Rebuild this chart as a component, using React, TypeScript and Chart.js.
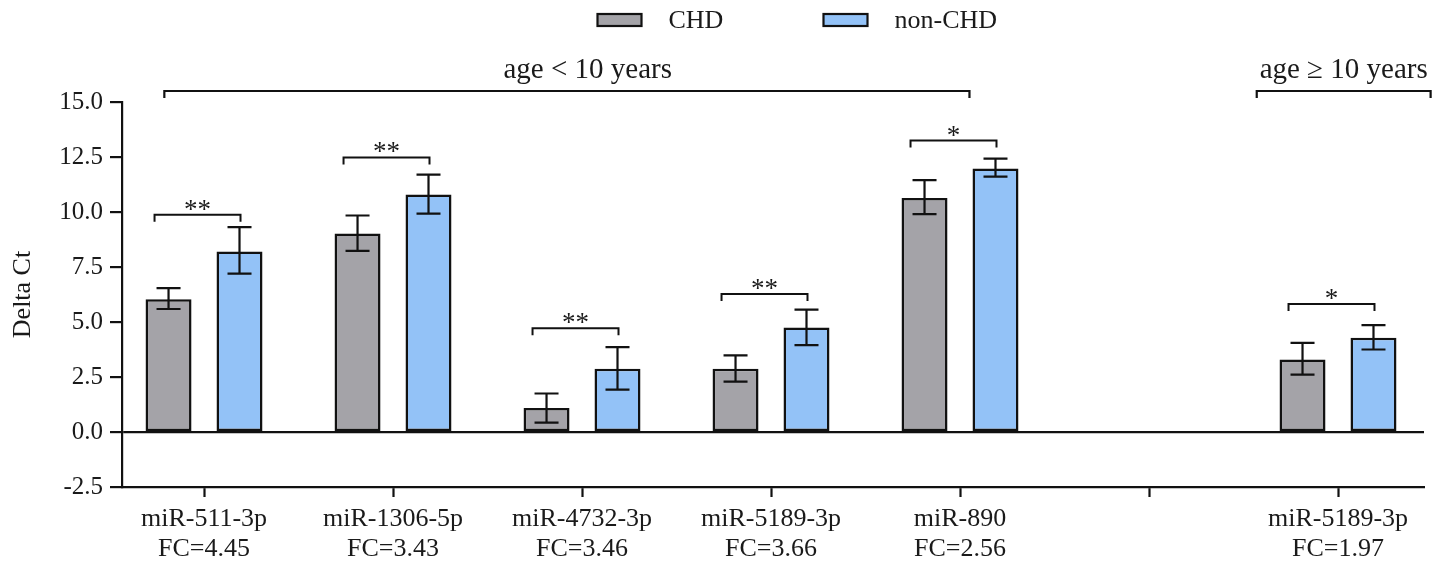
import React, { useEffect, useRef } from 'react';
import { Chart, registerables } from 'chart.js';

Chart.register(...registerables);

// ---------- data ----------
const CATEGORY_LABELS: string[][] = [
  ['miR-511-3p', 'FC=4.45'],
  ['miR-1306-5p', 'FC=3.43'],
  ['miR-4732-3p', 'FC=3.46'],
  ['miR-5189-3p', 'FC=3.66'],
  ['miR-890', 'FC=2.56'],
  [''],
  ['miR-5189-3p', 'FC=1.97'],
];
const CATEGORY_INDEX = [0, 1, 2, 3, 4, 5, 6];

const SERIES_NAMES = ['CHD', 'non-CHD'];
const CHD_VALUES = [6.03, 9.02, 1.09, 2.87, 10.64, null, 3.3];
const CHD_ERR_LOW = [5.59, 8.23, 0.43, 2.29, 9.9, null, 2.61];
const CHD_ERR_HIGH = [6.54, 9.84, 1.75, 3.48, 11.45, null, 4.05];
const NONCHD_VALUES = [8.2, 10.79, 2.87, 4.75, 11.98, null, 4.28];
const NONCHD_ERR_LOW = [7.2, 9.93, 1.93, 3.95, 11.61, null, 3.75];
const NONCHD_ERR_HIGH = [9.31, 11.7, 3.86, 5.56, 12.43, null, 4.86];

const SIG_LEVELS = [9.88, 12.48, 4.72, 6.27, 13.25, null, 5.82];
const SIG_MARKS = ['**', '**', '**', '**', '*', '', '*'];

const AGE_GROUP_LABELS = ['age < 10 years', 'age \u2265 10 years'];
const AGE_GROUP_FROM = [-0.21, 5.57];
const AGE_GROUP_TO = [4.05, 6.49];
const AGE_GROUP_LABEL_AT = [2.03, 6.03];
const AGE_GROUP_LEVEL = 15.5;

const Y_MIN = -2.5;
const Y_MAX = 15;
const Y_STEP = 2.5;
const Y_TITLE = 'Delta Ct';

// ---------- styles ----------
const FONT = '"Liberation Serif", "Times New Roman", serif';
const TEXT_COLOR = '#1a1a1a';
const GRAY = '#a4a3a8';
const BLUE = '#93c2f7';

const toPoints = (vals: (number | null)[]) =>
  vals
    .map((v, i) => (v === null ? null : { x: CATEGORY_INDEX[i], y: v }))
    .filter((p) => p !== null);

const overlayPlugin = {
  id: 'overlay',
  afterDatasetsDraw(chart: any) {
    const { ctx } = chart;
    const xs = chart.scales.x;
    const ys = chart.scales.y;
    const errs = [
      [CHD_ERR_LOW, CHD_ERR_HIGH],
      [NONCHD_ERR_LOW, NONCHD_ERR_HIGH],
    ];
    const centers: Record<number, number>[] = [{}, {}];
    ctx.save();
    ctx.strokeStyle = '#111';
    ctx.lineWidth = 2.2;
    ctx.lineCap = 'butt';
    // error bars
    [0, 1].forEach((d) => {
      const meta = chart.getDatasetMeta(d);
      const data = chart.data.datasets[d].data as any[];
      meta.data.forEach((el: any, j: number) => {
        const i = data[j].x;
        centers[d][i] = el.x;
        const lo = errs[d][0][i] as number;
        const hi = errs[d][1][i] as number;
        const yl = ys.getPixelForValue(lo);
        const yh = ys.getPixelForValue(hi);
        ctx.beginPath();
        ctx.moveTo(el.x, yl);
        ctx.lineTo(el.x, yh);
        ctx.moveTo(el.x - 12, yh);
        ctx.lineTo(el.x + 12, yh);
        ctx.moveTo(el.x - 12, yl);
        ctx.lineTo(el.x + 12, yl);
        ctx.stroke();
      });
    });
    // significance brackets
    ctx.lineWidth = 2;
    ctx.fillStyle = TEXT_COLOR;
    ctx.font = `27px ${FONT}`;
    ctx.textAlign = 'center';
    ctx.textBaseline = 'alphabetic';
    SIG_LEVELS.forEach((lvl, i) => {
      if (lvl === null) return;
      const left = centers[0][i] - 14;
      const right = centers[1][i] + 1;
      const y = ys.getPixelForValue(lvl);
      ctx.beginPath();
      ctx.moveTo(left, y + 7);
      ctx.lineTo(left, y);
      ctx.lineTo(right, y);
      ctx.lineTo(right, y + 7);
      ctx.stroke();
      ctx.fillText(SIG_MARKS[i], (left + right) / 2, y + 3);
    });
    // age group brackets
    ctx.lineWidth = 2.2;
    ctx.font = `29px ${FONT}`;
    const yb = ys.getPixelForValue(AGE_GROUP_LEVEL);
    AGE_GROUP_LABELS.forEach((lab, g) => {
      const x1 = xs.getPixelForValue(AGE_GROUP_FROM[g]);
      const x2 = xs.getPixelForValue(AGE_GROUP_TO[g]);
      ctx.beginPath();
      ctx.moveTo(x1, yb + 7);
      ctx.lineTo(x1, yb);
      ctx.lineTo(x2, yb);
      ctx.lineTo(x2, yb + 7);
      ctx.stroke();
      ctx.fillText(lab, xs.getPixelForValue(AGE_GROUP_LABEL_AT[g]), yb - 13);
    });
    ctx.restore();
  },
  afterDraw(chart: any) {
    const { ctx } = chart;
    const cx = chart.width / 2;
    const boxW = 44;
    const boxH = 12;
    const starts = [cx - 126, cx + 100];
    ctx.save();
    ctx.font = `26px ${FONT}`;
    ctx.textAlign = 'left';
    ctx.textBaseline = 'middle';
    chart.data.datasets.forEach((ds: any, k: number) => {
      const x0 = starts[k];
      ctx.fillStyle = ds.backgroundColor;
      ctx.fillRect(x0, 14, boxW, boxH);
      ctx.strokeStyle = '#111';
      ctx.lineWidth = 2.2;
      ctx.strokeRect(x0, 14, boxW, boxH);
      ctx.fillStyle = TEXT_COLOR;
      ctx.fillText(ds.label, x0 + boxW + 27, 21);
    });
    ctx.restore();
  },
};

export default function App() {
  const ref = useRef<HTMLCanvasElement | null>(null);
  useEffect(() => {
    if (!ref.current) return;
    Chart.defaults.font.family = FONT;
    const chart = new Chart(ref.current, {
      type: 'bar',
      data: {
        datasets: [
          {
            label: SERIES_NAMES[0],
            data: toPoints(CHD_VALUES) as any,
            backgroundColor: GRAY,
            borderColor: '#111',
            borderWidth: 2.5,
            borderSkipped: false,
            categoryPercentage: 0.751,
            barPercentage: 0.648,
          },
          {
            label: SERIES_NAMES[1],
            data: toPoints(NONCHD_VALUES) as any,
            backgroundColor: BLUE,
            borderColor: '#111',
            borderWidth: 2.5,
            borderSkipped: false,
            categoryPercentage: 0.751,
            barPercentage: 0.648,
          },
        ],
      },
      options: {
        responsive: false,
        animation: false,
        events: [],
        layout: { padding: { top: 102, right: 23, left: 0, bottom: 0 } },
        plugins: {
          legend: { display: false },
          tooltip: { enabled: false },
        },
        scales: {
          x: {
            type: 'linear',
            offset: false,
            min: -0.434,
            max: 6.455,
            afterBuildTicks: (s: any) => {
              s.ticks = CATEGORY_INDEX.map((v) => ({ value: v }));
            },
            afterFit: (s: any) => {
              s.height = 76;
            },
            border: { display: true, color: '#111', width: 2.2 },
            grid: {
              offset: false,
              drawOnChartArea: false,
              drawTicks: true,
              tickLength: 10,
              tickWidth: 2.2,
              tickColor: '#111',
            },
            ticks: {
              autoSkip: false,
              maxRotation: 0,
              padding: 7,
              color: TEXT_COLOR,
              font: { size: 26, family: FONT, lineHeight: 1.15 },
              callback: (v: any) => CATEGORY_LABELS[v as number] ?? '',
            },
          },
          y: {
            min: Y_MIN,
            max: Y_MAX,
            afterFit: (s: any) => {
              s.width = 122;
            },
            border: { display: true, color: '#111', width: 2.2 },
            grid: {
              drawOnChartArea: true,
              color: (c: any) => (c.tick && c.tick.value === 0 ? '#111' : 'rgba(0,0,0,0)'),
              lineWidth: 2.2,
              tickLength: 12,
              tickWidth: 2.2,
              tickColor: '#111',
            },
            ticks: {
              stepSize: Y_STEP,
              padding: 7,
              color: TEXT_COLOR,
              font: { size: 25, family: FONT },
              callback: (v: any) => Number(v).toFixed(1),
            },
            title: {
              display: true,
              text: Y_TITLE,
              color: TEXT_COLOR,
              font: { size: 26, family: FONT, lineHeight: 1.2 },
              padding: { top: 8, bottom: 0 },
            },
          },
        },
      },
      plugins: [overlayPlugin],
    });
    return () => chart.destroy();
  }, []);
  return (
    <div style={{ position: 'absolute', left: 0, top: 0, width: 1447, height: 563, background: '#fff' }}>
      <canvas ref={ref} width={1447} height={563} />
    </div>
  );
}
